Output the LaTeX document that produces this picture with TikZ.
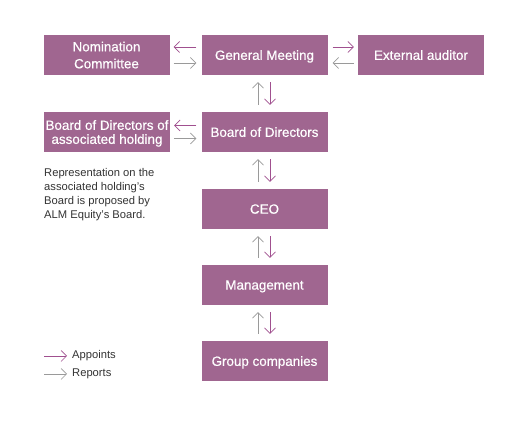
\documentclass[tikz,border=0pt]{standalone}
\usepackage{fontspec}
\setmainfont{Liberation Sans}
\newfontfamily\boxfont[FakeBold=0.5]{Liberation Sans}
\usetikzlibrary{arrows.meta}
\definecolor{boxfill}{HTML}{A06690}
\definecolor{appointc}{HTML}{A0508F}
\definecolor{reportc}{HTML}{9A9A9A}
\definecolor{notec}{HTML}{333333}
\tikzset{
  orgbox/.style={fill=boxfill, draw=none, text=white, minimum width=126pt, minimum height=40pt,
    inner sep=0pt, align=center, text depth=0pt, font=\boxfont\fontsize{13.4}{14.5}\selectfont},
  appoint/.style={draw=appointc, line width=0.7pt, -{Straight Barb[length=5.5pt,width=11pt]}},
  report/.style={draw=reportc, line width=0.7pt, -{Straight Barb[length=5.5pt,width=11pt]}},
  legendtext/.style={anchor=west, inner sep=0pt, text=notec, font=\fontsize{11.2}{13}\selectfont},
}
\begin{document}
\begin{tikzpicture}[x=1pt,y=-1pt]
\useasboundingbox (0,0) rectangle (528,427);
\node[orgbox, font=\boxfont\fontsize{13.4}{17}\selectfont] (nc) at (106.5,55) {Nomination\\Committee};
\node[orgbox] (gm) at (264.5,55) {General Meeting};
\node[orgbox] (ea) at (421,55) {External auditor};
\node[orgbox, font=\boxfont\fontsize{13.4}{14}\selectfont] (assoc) at (107,132) {Board of Directors of\\associated holding};
\node[orgbox] (bod) at (264.5,132) {Board of Directors};
\node[orgbox] (ceo) at (264.5,209) {CEO};
\node[orgbox] (mgmt) at (264.5,285) {Management};
\node[orgbox] (gc) at (264.5,361) {Group companies};

% horizontal
\draw[appoint] ([xshift=-5pt,yshift=8pt]gm.west) -- ([xshift=4pt,yshift=8pt]nc.east);
\draw[report] ([xshift=4pt,yshift=-8pt]nc.east) -- ([xshift=-5pt,yshift=-8pt]gm.west);
\draw[appoint] ([xshift=5pt,yshift=8pt]gm.east) -- ([xshift=-4pt,yshift=8pt]ea.west);
\draw[report] ([xshift=-4pt,yshift=-8pt]ea.west) -- ([xshift=5pt,yshift=-8pt]gm.east);
\draw[appoint] ([xshift=-5pt,yshift=6.5pt]bod.west) -- ([xshift=4pt,yshift=6.5pt]assoc.east);
\draw[report] ([xshift=4pt,yshift=-6.5pt]assoc.east) -- ([xshift=-5pt,yshift=-6.5pt]bod.west);

% vertical
\foreach \a/\b in {gm/bod, bod/ceo, ceo/mgmt, mgmt/gc}{
  \draw[report] ([xshift=-6.5pt,yshift=7pt]\b.north) -- ([xshift=-6.5pt,yshift=-7pt]\a.south);
  \draw[appoint] ([xshift=5.5pt,yshift=-7pt]\a.south) -- ([xshift=5.5pt,yshift=7pt]\b.north);
}

\node[anchor=north west, inner sep=0pt, align=left, text=notec,
  font=\fontsize{11.2}{14}\selectfont] (note) at (44,168.5)
  {Representation on the\\associated holding’s\\Board is proposed by\\ALM Equity’s Board.};

\coordinate (l1) at (44,356);
\coordinate (l2) at (44,374);
\node[legendtext] (lapp) at (72,356) {Appoints};
\node[legendtext] (lrep) at (72,374) {Reports};
\draw[appoint] (l1) -- ([xshift=-5pt]lapp.west);
\draw[report] (l2) -- ([xshift=-5pt]lrep.west);
\end{tikzpicture}
\end{document}
